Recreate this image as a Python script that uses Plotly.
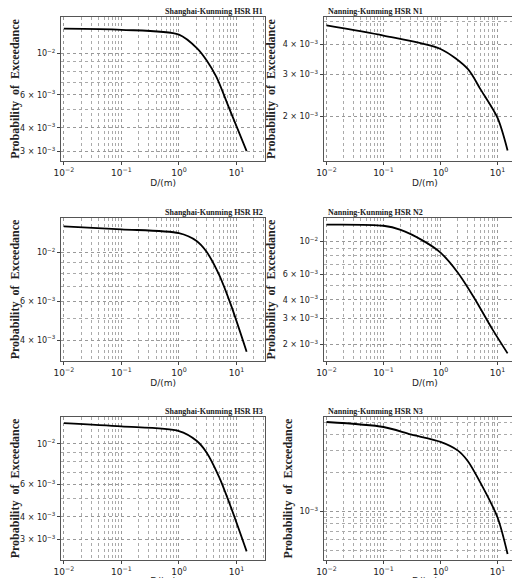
import plotly.graph_objects as go
import math

titles = ["Shanghai-Kunming HSR H1", "Nanning-Kunming HSR N1",
          "Shanghai-Kunming HSR H2", "Nanning-Kunming HSR N2",
          "Shanghai-Kunming HSR H3", "Nanning-Kunming HSR N3"]

h1_x = [0.01, 0.1, 1, 2.07, 3.06, 4.5, 7.6, 15]
h1_y = [0.01349, 0.0133, 0.01254, 0.0106, 0.0091, 0.00744, 0.00501, 0.0030]
n1_x = [0.01, 0.1, 1, 3, 5, 10, 15]
n1_y = [0.00481, 0.00436, 0.00383, 0.00316, 0.0026, 0.00197, 0.00144]
h2_x = [0.01, 0.1, 1, 2, 3, 5, 8, 15]
h2_y = [0.0131, 0.0127, 0.0122, 0.01127, 0.01007, 0.00789, 0.00577, 0.00354]
n2_x = [0.01, 0.1, 0.2, 0.5, 1, 2, 4, 8, 15]
n2_y = [0.01302, 0.0128, 0.0120, 0.0101, 0.0084, 0.00615, 0.00406, 0.00255, 0.00173]
h3_x = [0.01, 0.1, 1, 2, 3, 5, 8, 15]
h3_y = [0.01297, 0.01244, 0.01173, 0.01042, 0.0090, 0.00658, 0.00451, 0.00259]
n3_x = [0.01, 0.1, 0.3, 1, 2, 3, 5, 10, 15]
n3_y = [0.0050, 0.00457, 0.0040, 0.0035, 0.0030, 0.00248, 0.00168, 0.000898, 0.000466]

series = [(h1_x, h1_y), (n1_x, n1_y), (h2_x, h2_y), (n2_x, n2_y), (h3_x, h3_y), (n3_x, n3_y)]
y_ranges = [(-2.575, -1.808), (-2.886, -2.283), (-2.493, -1.845),
            (-2.814, -1.84), (-2.634, -1.854), (-3.379, -2.262)]
y_ticks = [[0.01, 0.006, 0.004, 0.003], [0.004, 0.003, 0.002], [0.01, 0.006, 0.004],
           [0.01, 0.006, 0.004, 0.003, 0.002], [0.01, 0.006, 0.004, 0.003], [0.001]]
x_ticks = [0.01, 0.1, 1, 10]
x_ticktext = ["10<sup>−2</sup>", "10<sup>−1</sup>", "10<sup>0</sup>", "10<sup>1</sup>"]

def ylab(v):
    e = math.floor(math.log10(v) + 1e-9)
    m = round(v / 10**e)
    if m == 1:
        return f"10<sup>−{-e}</sup>"
    return f"{m} × 10<sup>−{-e}</sup>"

W, H = 520, 578
cols = [(40, 250), (310, 518)]
rows = [(9, 153), (210, 353), (409, 552)]

fig = go.Figure()
grid = dict(showgrid=True, gridcolor="#999", griddash="dot", gridwidth=1)
for i, (xs, ys) in enumerate(series):
    r, c = divmod(i, 2)
    n = i + 1
    xa = "x" if n == 1 else f"x{n}"
    ya = "y" if n == 1 else f"y{n}"
    fig.add_trace(go.Scatter(x=xs, y=ys, mode="lines",
                             line=dict(color="black", width=1.8, shape="spline", smoothing=0.8),
                             xaxis=xa, yaxis=ya, showlegend=False))
    x0, x1 = cols[c]
    y0, y1 = rows[r]
    fig.layout[f"xaxis{'' if n == 1 else n}"] = dict(
        type="log", range=[-2.05, 1.5], domain=[x0 / W, x1 / W], anchor=ya,
        tickvals=x_ticks, ticktext=x_ticktext, ticks="outside", ticklen=3, tickcolor="#444",
        showline=True, linecolor="#555", mirror=True, linewidth=1,
        minor=dict(dtick="D1", showgrid=True, gridcolor="#aaa", griddash="dot", ticks=""),
        title=dict(text="D/(m)", font=dict(size=9, family="DejaVu Sans", color="#222"), standoff=0),
        tickfont=dict(size=9, family="DejaVu Sans", color="#222"), **grid)
    fig.layout[f"yaxis{'' if n == 1 else n}"] = dict(
        type="log", range=list(y_ranges[i]), domain=[1 - y1 / H, 1 - y0 / H], anchor=xa,
        tickvals=y_ticks[i], ticktext=[ylab(v) for v in y_ticks[i]],
        ticks="outside", ticklen=3, tickcolor="#444",
        showline=True, linecolor="#555", mirror=True, linewidth=1,
        minor=dict(dtick="D1", showgrid=True, gridcolor="#aaa", griddash="dot", ticks=""),
        title=dict(text="<b>Probability  of  Exceedance</b>",
                   font=dict(size=12, family="Liberation Serif", color="#222"), standoff=4),
        tickfont=dict(size=8, family="DejaVu Sans", color="#222"), **grid)
    fig.add_annotation(text=f"<b>{titles[i]}</b>", x=(x0 + x1) / 2 / W, y=1 - y0 / H,
                       xref="paper", yref="paper", yanchor="bottom", yshift=-1, showarrow=False,
                       font=dict(size=8, family="Liberation Serif", color="#222"))

fig.update_layout(width=W, height=H, margin=dict(l=0, r=0, t=0, b=0),
                  plot_bgcolor="white", paper_bgcolor="white")
fig.write_html("out.html")
